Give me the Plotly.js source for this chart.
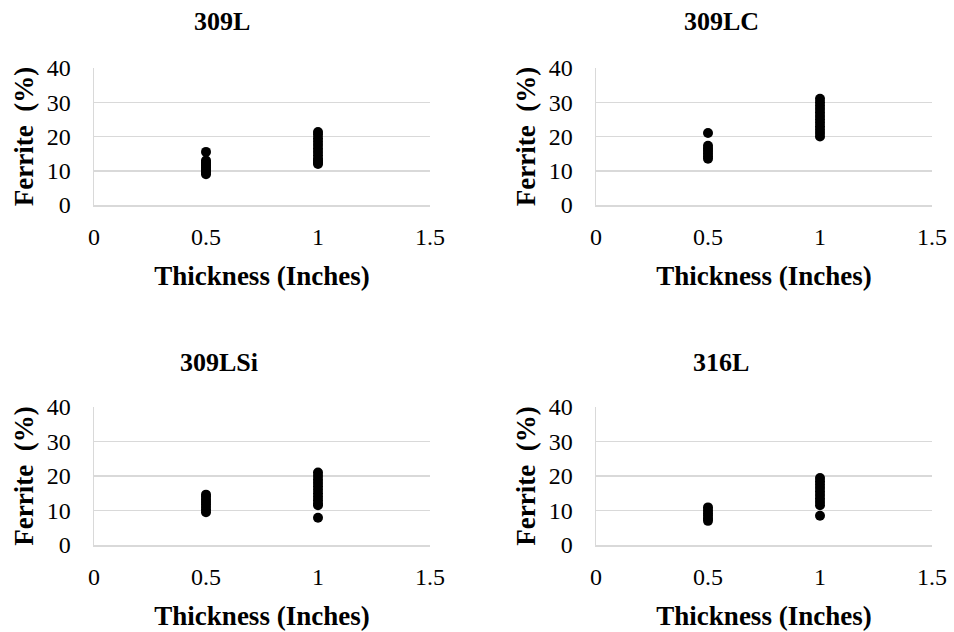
<!DOCTYPE html>
<html><head><meta charset="utf-8">
<script src="https://cdn.plot.ly/plotly-3.0.1.min.js"></script>
<style>html,body{margin:0;padding:0;background:#fff}</style>
</head><body>
<div id="chart" style="width:954px;height:632px"></div>
<script>
const panelTitles = ["309L", "309LC", "309LSi", "316L"];
const xTitle = "Thickness (Inches)";
const yTitle = "Ferrite&nbsp;&nbsp;(%)";

// Thickness (inches) and ferrite (%) per alloy
const x309L  = [0.5,0.5,0.5,0.5,0.5,0.5,0.5,0.5,0.5,0.5, 1,1,1,1,1,1,1,1,1,1,1,1];
const y309L  = [15.5,13,12.5,12,11.5,11,10.5,10,9.5,9, 21.3,20.5,19.5,18.5,17.5,16.5,15.5,14.5,13.5,13,12.5,12];
const x309LC = [0.5,0.5,0.5,0.5,0.5,0.5,0.5, 1,1,1,1,1,1,1,1,1,1,1,1];
const y309LC = [21,17.3,16.5,15.8,15,14.2,13.5, 31,30,29,28,27,26,25,24,23,22,21,20];
const x309LSi = [0.5,0.5,0.5,0.5,0.5,0.5,0.5,0.5, 1,1,1,1,1,1,1,1,1,1,1,1];
const y309LSi = [14.6,14,13.2,12.5,11.8,11,10.2,9.5, 21,20,19,18,17,16,15,14,13,12,11.5,7.9];
const x316L  = [0.5,0.5,0.5,0.5,0.5,0.5, 1,1,1,1,1,1,1,1,1,1];
const y316L  = [10.9,10,9.2,8.5,7.7,7, 19.4,18.5,17.5,16.5,15.5,14.5,13.5,12.5,11.5,8.5];

const xs = [x309L, x309LC, x309LSi, x316L];
const ys = [y309L, y309LC, y309LSi, y316L];
const xTicks = [0, 0.5, 1, 1.5];
const yTicks = [0, 10, 20, 30, 40];

const W = 954, H = 632;
const xDom = [[94/W, 430/W], [596/W, 932/W], [94/W, 430/W], [596/W, 932/W]];
const yDom = [[1-205/H, 1-68/H], [1-205/H, 1-68/H], [1-545/H, 1-407/H], [1-545/H, 1-407/H]];
const titleX = [222, 721, 219, 721];
const titleY = [22, 22, 362, 362];

const serif = "Liberation Serif";
const traces = [];
const layout = {
  width: W, height: H,
  margin: {l: 0, r: 0, t: 0, b: 0},
  paper_bgcolor: "#fff", plot_bgcolor: "#fff",
  showlegend: false,
  font: {family: serif, color: "#000"},
  annotations: []
};

for (let i = 0; i < 4; i++) {
  const s = i === 0 ? "" : String(i + 1);
  traces.push({
    type: "scatter", mode: "markers",
    x: xs[i], y: ys[i],
    xaxis: "x" + s, yaxis: "y" + s,
    marker: {color: "#000", size: 10},
    hoverinfo: "x+y"
  });
  layout["xaxis" + s] = {
    domain: xDom[i], anchor: "y" + s,
    range: [0, 1.5], tickvals: xTicks, ticktext: xTicks.map(String),
    showgrid: false, zeroline: false,
    showline: true, linecolor: "#d9d9d9", linewidth: 1.5,
    ticks: "", ticklabelstandoff: 10,
    tickfont: {family: serif, size: 24, color: "#000"},
    title: {text: "<b>" + xTitle + "</b>", font: {family: serif, size: 27, color: "#000"}, standoff: 17}
  };
  layout["yaxis" + s] = {
    domain: yDom[i], anchor: "x" + s,
    range: [0, 40], tickvals: yTicks,
    showgrid: true, gridcolor: "#d9d9d9", gridwidth: 1.5,
    zeroline: false,
    showline: true, linecolor: "#d9d9d9", linewidth: 1.5,
    ticks: "", ticklabelstandoff: 17,
    tickfont: {family: serif, size: 24, color: "#000"},
    title: {text: "<b>" + yTitle + "</b>", font: {family: serif, size: 27, color: "#000"}, standoff: 5}
  };
  layout.annotations.push({
    text: "<b>" + panelTitles[i] + "</b>",
    xref: "paper", yref: "paper",
    x: titleX[i] / W,
    y: 1 - titleY[i] / H,
    xanchor: "center", yanchor: "middle",
    showarrow: false,
    font: {family: serif, size: 26, color: "#000"}
  });
}

Plotly.newPlot("chart", traces, layout, {displayModeBar: false, staticPlot: true});
</script>
</body></html>
